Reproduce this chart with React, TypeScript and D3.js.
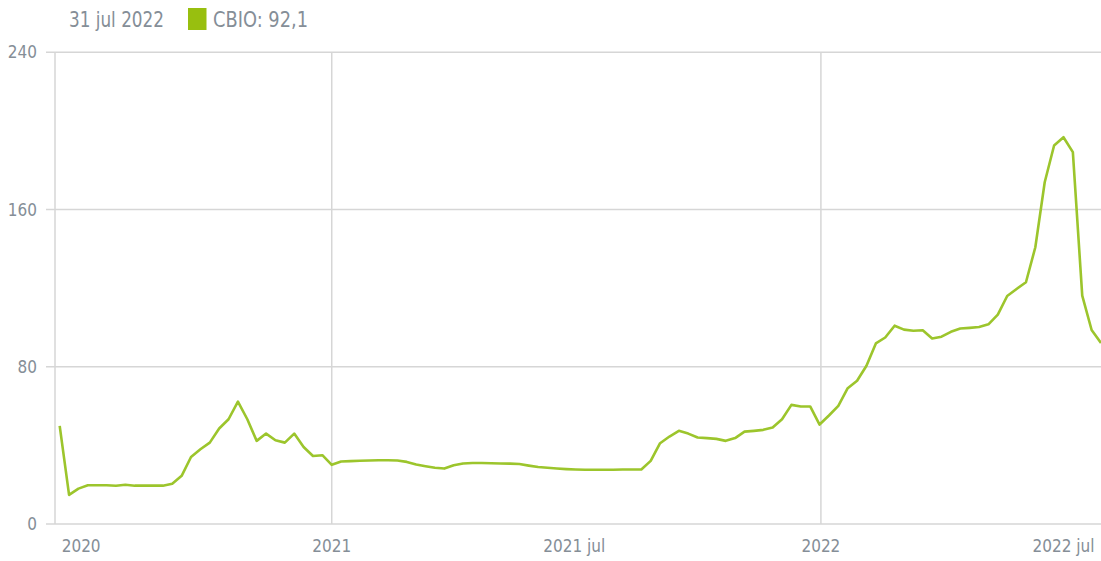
import React from 'react';
import * as d3 from 'd3';

// weekly CBIO prices (Fridays)
const startDate = new Date(2020, 5, 12);
const cbioValues = [
  49.9, 14.8, 18.0, 19.7, 19.7, 19.7, 19.5, 20.0, 19.5, 19.5,
  19.5, 19.5, 20.5, 24.5, 34.1, 38.0, 41.4, 48.6, 53.3, 62.3,
  53.3, 42.3, 46.0, 42.6, 41.4, 46.0, 39.2, 34.6, 35.0, 30.1,
  31.8, 32.0, 32.2, 32.3, 32.4, 32.4, 32.3, 31.6, 30.3, 29.4,
  28.6, 28.2, 29.9, 30.8, 31.0, 31.0, 30.9, 30.8, 30.7, 30.5,
  29.7, 29.0, 28.6, 28.2, 27.9, 27.7, 27.6, 27.6, 27.6, 27.6,
  27.7, 27.7, 27.7, 32.1, 41.1, 44.5, 47.4, 46.0, 44.0, 43.7,
  43.3, 42.3, 43.7, 47.0, 47.4, 47.9, 49.1, 53.3, 60.6, 59.8,
  59.8, 50.6, 55.2, 60.1, 69.1, 72.9, 80.5, 91.9, 94.9, 100.9,
  98.9, 98.3, 98.6, 94.4, 95.3, 97.8, 99.5, 99.8, 100.2, 101.6,
  106.5, 116.0, 119.6, 123.0, 140.8, 173.9, 192.6, 196.8, 189.2, 116.2,
  98.7, 92.1,
];
const yTicks = [0, 80, 160, 240];
const xTickLabels = ['2020', '2021', '2021 jul', '2022', '2022 jul'];
const xTickDates = [
  new Date(2020, 5, 28),
  new Date(2021, 0, 1),
  new Date(2021, 6, 1),
  new Date(2022, 0, 1),
  new Date(2022, 6, 1),
];
const yearLines = [new Date(2021, 0, 1), new Date(2022, 0, 1)];
const legendDate = '31 jul 2022';
const legendLabel = 'CBIO: 92,1';

const width = 1101;
const height = 561;
const font = "'DejaVu Sans Condensed', 'DejaVu Sans', sans-serif";
const textColor = '#858e97';
const gridColor = '#d6d6d6';

export default function App() {
  const data = cbioValues.map((v, i) => ({ date: d3.timeDay.offset(startDate, i * 7), value: v }));

  const x = d3.scaleTime()
    .domain([new Date(2020, 5, 8, 12), new Date(2022, 6, 29)])
    .range([55, 1101]);
  const y = d3.scaleLinear().domain([0, 240]).range([524, 52.3]);

  const line = d3.line<{ date: Date; value: number }>()
    .x(d => x(d.date))
    .y(d => y(d.value));

  const [x0, x1] = x.range();

  return (
    <>
      <style>{'body{margin:0}'}</style>
      <svg width={width} height={height} style={{ display: 'block', background: '#fff' }}>
        {/* horizontal grid */}
        {yTicks.map(t => (
          <g key={t}>
            <line x1={x0 - 9} x2={x1} y1={y(t)} y2={y(t)} stroke={gridColor} strokeWidth={1.5} />
            <text x={37} y={y(t) + 6} textAnchor="end" fontFamily={font} fontSize={17} fill={textColor}>
              {t}
            </text>
          </g>
        ))}
        {/* vertical lines */}
        <line x1={x0} x2={x0} y1={y(240)} y2={y(0)} stroke={gridColor} strokeWidth={1.5} />
        {yearLines.map(d => (
          <line key={d.getTime()} x1={x(d)} x2={x(d)} y1={y(240)} y2={y(0)} stroke={gridColor} strokeWidth={1.5} />
        ))}
        {/* x labels */}
        {xTickLabels.map((label, i) => (
          <text key={label} x={x(xTickDates[i])} y={552} textAnchor="middle" fontFamily={font} fontSize={17} fill={textColor}>
            {label}
          </text>
        ))}
        {/* series */}
        <path d={line(data) || ''} fill="none" stroke="#9cc52c" strokeWidth={2.6} strokeLinejoin="round" />
        {/* legend */}
        <text x={69} y={27} fontFamily={font} fontSize={21} fill={textColor} textLength={95} lengthAdjust="spacingAndGlyphs">
          {legendDate}
        </text>
        <rect x={188} y={8} width={18.5} height={22} fill="#98bf0f" />
        <text x={213} y={27} fontFamily={font} fontSize={21} fill={textColor} textLength={95} lengthAdjust="spacingAndGlyphs">
          {legendLabel}
        </text>
      </svg>
    </>
  );
}
